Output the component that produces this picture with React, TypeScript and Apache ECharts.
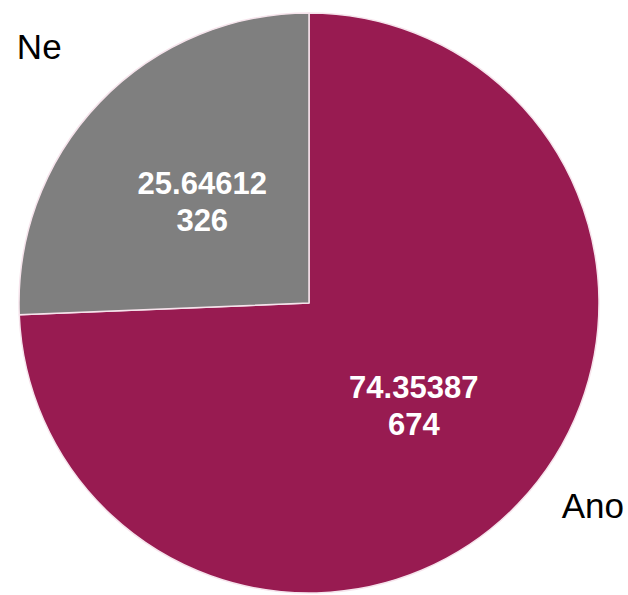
import React, { useEffect, useRef } from "react";
import * as echarts from "echarts";

const categories = ["Ano", "Ne"];
const percents = [74.35387, 25.64612];
const counts = [674, 326];
const colors = ["#981b51", "#7f7f7f"];

export default function App() {
  const ref = useRef<HTMLDivElement>(null);
  useEffect(() => {
    if (!ref.current) return;
    const chart = echarts.init(ref.current, null, { renderer: "svg" });
    const innerOffsets: Record<string, number[]> = { Ano: [-2, 0], Ne: [0, 2] };
    const outerOffsets: Record<string, number[]> = { Ano: [14, -57], Ne: [0, 3] };
    chart.setOption({
      animation: false,
      backgroundColor: "#ffffff",
      series: [
        {
          type: "pie",
          center: [309, 303],
          radius: [0, 290],
          startAngle: 90,
          clockwise: true,
          silent: true,
          itemStyle: { borderColor: "#f6e4ec", borderWidth: 1.5 },
          label: {
            show: true,
            position: "inside",
            color: "#ffffff",
            fontFamily: "Liberation Sans, Arial, sans-serif",
            fontWeight: "bold",
            fontSize: 31,
            lineHeight: 37,
            formatter: (p: any) => `${percents[p.dataIndex]}\n${counts[p.dataIndex]}`,
          },
          labelLine: { show: false },
          data: categories.map((c, i) => ({
            name: c,
            value: percents[i],
            itemStyle: { color: colors[i] },
            label: { offset: innerOffsets[c] },
          })),
        },
        {
          type: "pie",
          center: [309, 303],
          radius: [292, 450],
          startAngle: 90,
          clockwise: true,
          silent: true,
          itemStyle: { color: "rgba(0,0,0,0)", borderWidth: 0 },
          label: {
            show: true,
            position: "inside",
            color: "#000000",
            fontFamily: "Liberation Sans, Arial, sans-serif",
            fontSize: 35,
            formatter: "{b}",
          },
          labelLine: { show: false },
          data: categories.map((c, i) => ({
            name: c,
            value: percents[i],
            label: { offset: outerOffsets[c] },
          })),
        },
      ],
    });
    return () => chart.dispose();
  }, []);
  return (
    <div
      ref={ref}
      style={{ position: "fixed", left: 0, top: 0, width: 628, height: 595 }}
    />
  );
}
